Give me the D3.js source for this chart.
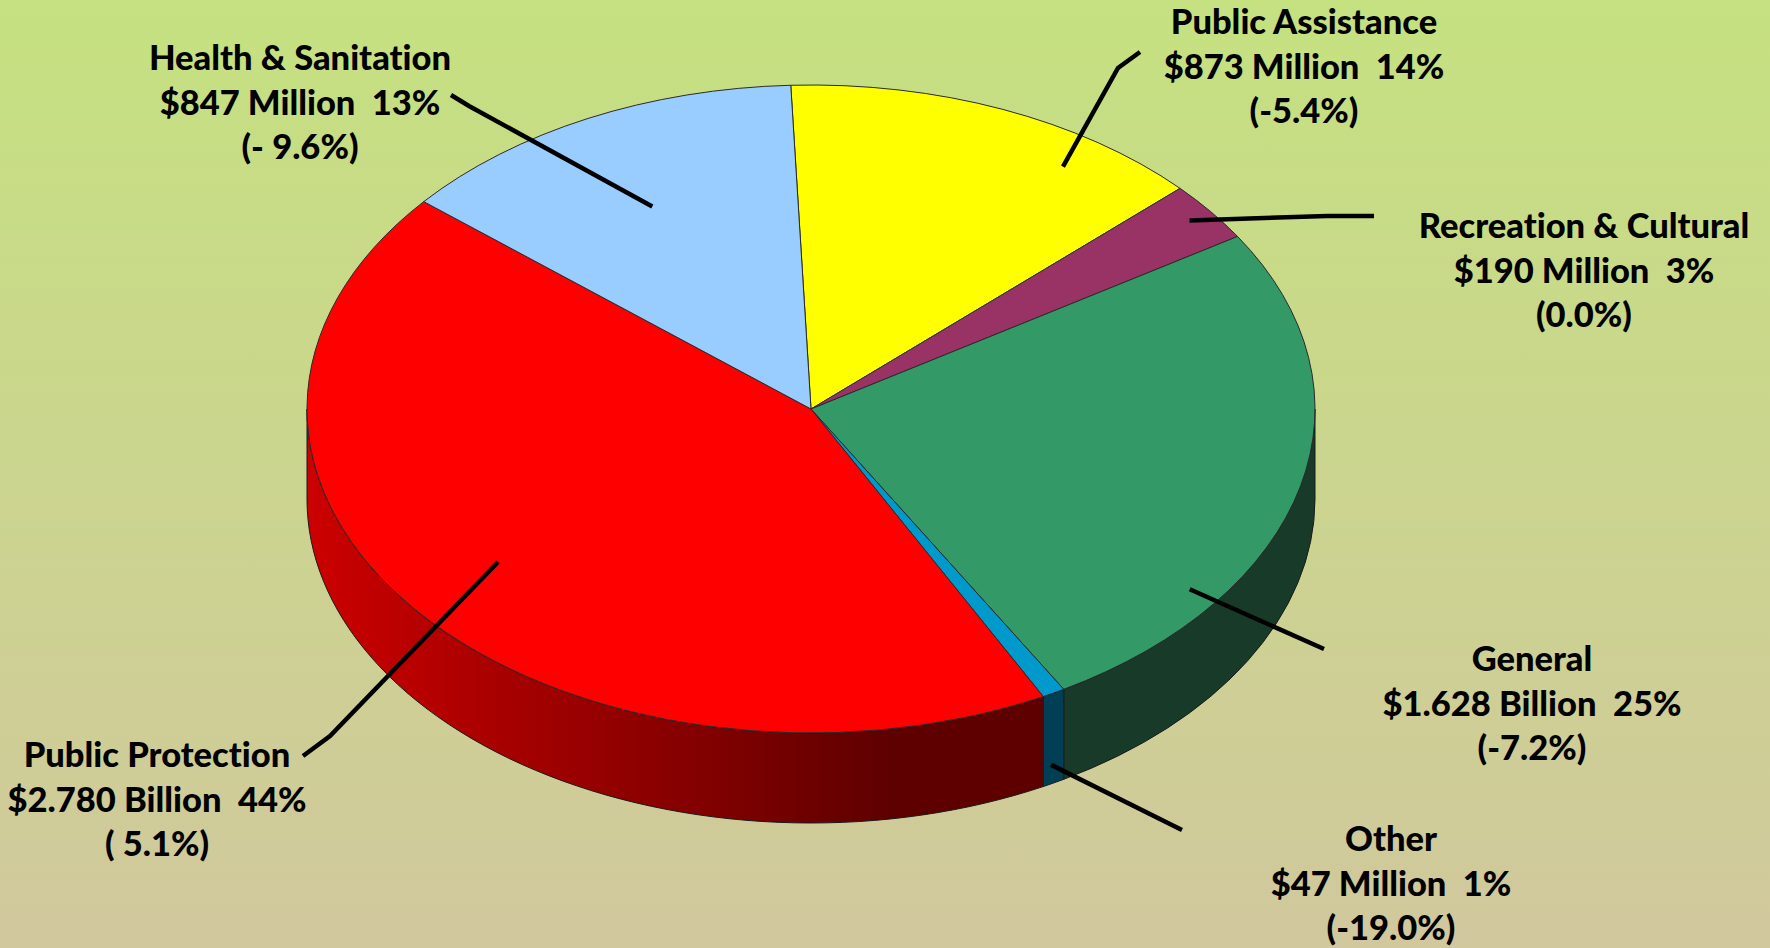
<!DOCTYPE html>
<html>
<head>
<meta charset="utf-8">
<script src="https://cdn.jsdelivr.net/npm/d3@7"></script>
<style>
  html, body { margin: 0; padding: 0; overflow: hidden; }
  svg text { font-family: Lato, "Liberation Sans", Arial, sans-serif; font-weight: 900;
             font-variant-ligatures: none; white-space: pre; }
</style>
</head>
<body>
<script>
// slices in the order they go round the pie, clockwise from 12 o'clock
var categories = ["Public Assistance", "Recreation & Cultural", "General", "Other", "Public Protection", "Health & Sanitation"];
var amounts = [873, 190, 1628, 47, 2780, 847];          // $ million
var shares = [14, 3, 25, 1, 44, 13];                     // percent as printed
var changes = ["(-5.4%)", "(0.0%)", "(-7.2%)", "(-19.0%)", "( 5.1%)", "(- 9.6%)"];
var topColors = ["#FFFF00", "#993366", "#339966", "#0099CC", "#FF0000", "#99CCFF"];
var sideColors = ["#7f7f00", "#4c1a33", "#173b28", "#003f55", "url(#redSide)", "#4c667f"];

var width = 1770, height = 948;
var cx = 811, cy = 409, rx = 504, ry = 324, depth = 90;
var k = ry / rx;   // vertical squash of the tilted pie

// where each label sits and how its leader line bends
// t = position across the slice, r = fraction of radius, dz = fraction of depth down the side
var labelLayout = {
  "Public Assistance":     {x: 1304, y: 34,  bend: [[1140, 52], [1118, 68]], t: 0.73, r: 0.9,  dz: 0},
  "Recreation & Cultural": {x: 1584, y: 238, bend: [[1374, 216], [1327, 216]], t: 0.48, r: 0.95, dz: 0},
  "General":               {x: 1532, y: 671, bend: [[1324, 649]], t: 0.746, r: 0.935, dz: 0},
  "Other":                 {x: 1391, y: 851, bend: [[1182, 830]], t: 0.5, r: 0.99, dz: 0.83},
  "Public Protection":     {x: 157,  y: 767, bend: [[303, 756], [330, 736]], t: 0.51, r: 0.78, dz: 0},
  "Health & Sanitation":   {x: 300,  y: 70,  bend: [[451, 95], [469, 106]], t: 0.49, r: 0.7, dz: 0}
};

function amountText(v) {
  if (v >= 1000) return "$" + (v / 1000).toFixed(3) + " Billion";
  return "$" + v + " Million";
}

var data = categories.map(function(c, i) {
  return {name: c, value: amounts[i], share: shares[i], change: changes[i],
          top: topColors[i], side: sideColors[i]};
});

var start = -2.3 * Math.PI / 180;
var pie = d3.pie()
  .sort(null)
  .value(function(d) { return d.value; })
  .startAngle(start)
  .endAngle(start + 2 * Math.PI);

var arcs = pie(data);

var svg = d3.select("body")
  .append("svg")
  .attr("width", width)
  .attr("height", height);

var defs = svg.append("defs");

// background fade
var bg = defs.append("linearGradient")
  .attr("id", "bg")
  .attr("x1", 0).attr("y1", 0).attr("x2", 0).attr("y2", 1);
bg.append("stop").attr("offset", "0%").attr("stop-color", "#c5e180");
bg.append("stop").attr("offset", "100%").attr("stop-color", "#d1c89d");

// shading along the red wall
var red = defs.append("linearGradient")
  .attr("id", "redSide")
  .attr("x1", 0).attr("y1", 0).attr("x2", 1).attr("y2", 0);
red.append("stop").attr("offset", "0%").attr("stop-color", "#cc0000");
red.append("stop").attr("offset", "80%").attr("stop-color", "#5e0000");
red.append("stop").attr("offset", "100%").attr("stop-color", "#5e0000");

svg.append("rect")
  .attr("width", width)
  .attr("height", height)
  .style("fill", "url(#bg)");

var pieG = svg.append("g")
  .attr("transform", "translate(" + cx + "," + cy + ") scale(1," + k + ")");

// side walls, only the front half (90deg to 270deg) is visible
var D = depth / k;
function sidePath(d) {
  var a0 = Math.max(d.startAngle, Math.PI / 2),
      a1 = Math.min(d.endAngle, 3 * Math.PI / 2);
  if (a0 >= a1) return null;
  var p = d3.path();
  p.arc(0, 0, rx, a0 - Math.PI / 2, a1 - Math.PI / 2);
  p.lineTo(rx * Math.cos(a1 - Math.PI / 2), rx * Math.sin(a1 - Math.PI / 2) + D);
  p.arc(0, D, rx, a1 - Math.PI / 2, a0 - Math.PI / 2, true);
  p.closePath();
  return p.toString();
}

pieG.selectAll("path.side")
  .data(arcs.filter(function(d) { return sidePath(d) !== null; }))
  .enter().append("path")
  .attr("class", "side")
  .attr("d", sidePath)
  .style("fill", function(d) { return d.data.side; })
  .style("stroke", "#1a1a1a")
  .style("stroke-width", 1)
  .attr("vector-effect", "non-scaling-stroke");

// top faces
var arc = d3.arc().innerRadius(0).outerRadius(rx);

pieG.selectAll("path.top")
  .data(arcs)
  .enter().append("path")
  .attr("class", "top")
  .attr("d", arc)
  .style("fill", function(d) { return d.data.top; })
  .style("stroke", "#2a2a2a")
  .style("stroke-width", 1)
  .attr("vector-effect", "non-scaling-stroke");

// leader lines
var line = d3.line();
svg.selectAll("path.leader")
  .data(arcs)
  .enter().append("path")
  .attr("class", "leader")
  .attr("d", function(d) {
    var L = labelLayout[d.data.name];
    var a = d.startAngle + L.t * (d.endAngle - d.startAngle);
    var inner = [cx + L.r * rx * Math.sin(a), cy - L.r * ry * Math.cos(a) + L.dz * depth];
    return line(L.bend.concat([inner]));
  })
  .style("fill", "none")
  .style("stroke", "#000")
  .style("stroke-width", 4.5);

// labels
var labels = svg.selectAll("text.label")
  .data(arcs)
  .enter().append("text")
  .attr("class", "label")
  .attr("text-anchor", "middle")
  .style("font-size", "34.5px")
  .style("fill", "#000")
  .attr("x", function(d) { return labelLayout[d.data.name].x; })
  .attr("y", function(d) { return labelLayout[d.data.name].y; });

labels.each(function(d) {
  var t = d3.select(this), x = labelLayout[d.data.name].x;
  var lines = [d.data.name, amountText(d.data.value) + "  " + d.data.share + "%", d.data.change];
  lines.forEach(function(s, i) {
    t.append("tspan")
      .attr("x", x)
      .attr("dy", i === 0 ? 0 : 44.5)
      .text(s);
  });
});
</script>
</body>
</html>
